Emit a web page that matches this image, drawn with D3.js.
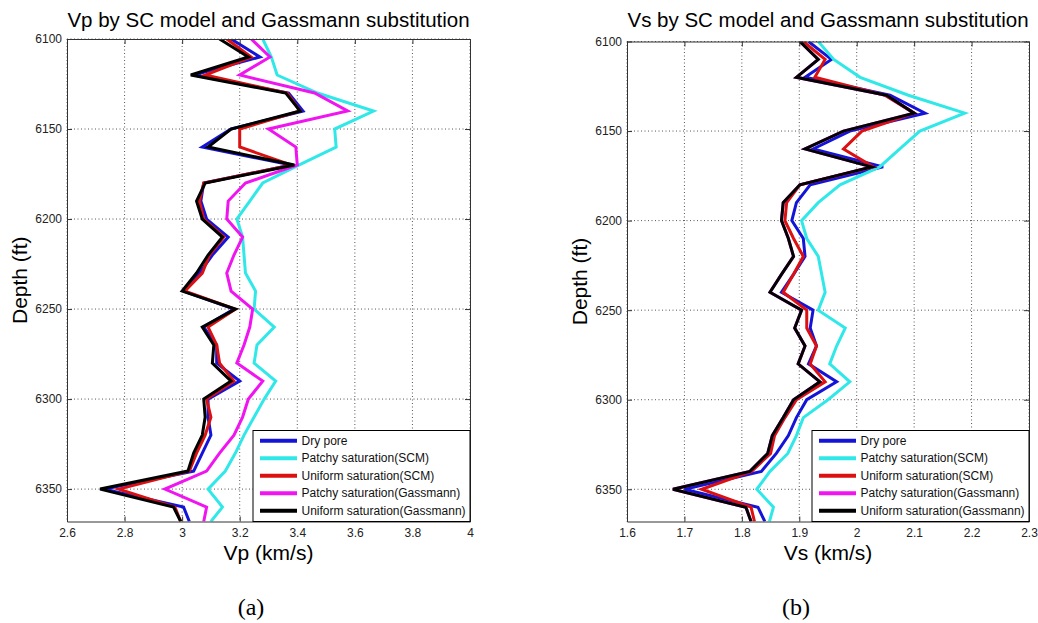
<!DOCTYPE html>
<html>
<head>
<meta charset="utf-8">
<script src="https://d3js.org/d3.v7.min.js"></script>
<style>
  body { margin: 0; background: #fff; }
  svg { display: block; font-family: "Liberation Sans", Arial, sans-serif; }
  .grid line { stroke: #555; stroke-width: 1; stroke-dasharray: 1,2.5; }
  .axis path, .axis line { stroke: #333; }
  .axis text { font-size: 12px; fill: #222; font-family: "Liberation Sans", Arial, sans-serif; }
  .serie { fill: none; stroke-width: 3; }
</style>
</head>
<body>
<svg id="chart" width="1038" height="623"></svg>
<script>
// depths (ft), shared by all curves
const depth = [6100, 6110, 6120, 6130, 6140, 6150, 6160, 6170, 6180, 6190,
               6200, 6210, 6220, 6230, 6240, 6250, 6260, 6270, 6280, 6290,
               6300, 6310, 6320, 6330, 6340, 6350, 6360, 6368];

// Vp (km/s)
const vpDry        = [3.17, 3.27, 3.04, 3.37, 3.42, 3.17, 3.07, 3.38, 3.075, 3.065, 3.085, 3.16, 3.105, 3.06, 3.005, 3.18, 3.075, 3.12, 3.12, 3.20, 3.09, 3.09, 3.10, 3.07, 3.04, 2.73, 3.005, 3.025];
const vpPatchySCM  = [3.28, 3.31, 3.33, 3.47, 3.665, 3.53, 3.535, 3.405, 3.28, 3.235, 3.19, 3.21, 3.215, 3.22, 3.255, 3.25, 3.32, 3.26, 3.25, 3.325, 3.285, 3.25, 3.215, 3.185, 3.15, 3.09, 3.14, 3.10];
const vpUniformSCM = [3.155, 3.24, 3.08, 3.365, 3.41, 3.20, 3.20, 3.38, 3.075, 3.06, 3.075, 3.145, 3.095, 3.07, 3.01, 3.185, 3.09, 3.12, 3.13, 3.18, 3.085, 3.10, 3.08, 3.05, 3.025, 2.78, 2.975, 2.995];
const vpPatchyGas  = [3.24, 3.305, 3.20, 3.46, 3.575, 3.30, 3.395, 3.40, 3.22, 3.16, 3.155, 3.21, 3.18, 3.155, 3.17, 3.245, 3.235, 3.215, 3.19, 3.28, 3.23, 3.21, 3.18, 3.13, 3.085, 2.94, 3.085, 3.075];
const vpUniformGas = [3.13, 3.23, 3.03, 3.36, 3.41, 3.17, 3.09, 3.39, 3.08, 3.05, 3.07, 3.14, 3.09, 3.05, 3.00, 3.185, 3.07, 3.11, 3.105, 3.17, 3.075, 3.08, 3.07, 3.04, 3.02, 2.715, 2.97, 2.995];

// Vs (km/s)
const vsDry        = [1.916, 1.956, 1.91, 2.058, 2.119, 1.988, 1.924, 2.046, 1.919, 1.895, 1.887, 1.907, 1.91, 1.89, 1.869, 1.924, 1.919, 1.93, 1.916, 1.965, 1.913, 1.895, 1.881, 1.86, 1.834, 1.70, 1.828, 1.84];
const vsPatchySCM  = [1.933, 1.96, 2.006, 2.09, 2.188, 2.11, 2.075, 2.04, 1.971, 1.933, 1.904, 1.913, 1.933, 1.939, 1.945, 1.933, 1.98, 1.965, 1.953, 1.988, 1.95, 1.907, 1.895, 1.88, 1.849, 1.826, 1.855, 1.848];
const vsUniformSCM = [1.907, 1.945, 1.927, 2.049, 2.10, 2.009, 1.977, 2.029, 1.901, 1.878, 1.875, 1.89, 1.907, 1.89, 1.872, 1.913, 1.913, 1.93, 1.919, 1.945, 1.895, 1.875, 1.857, 1.85, 1.817, 1.73, 1.816, 1.822];
const vsPatchyGas  = [1.901, 1.933, 1.895, 2.052, 2.10, 1.977, 1.91, 2.026, 1.901, 1.872, 1.869, 1.881, 1.89, 1.869, 1.849, 1.904, 1.892, 1.91, 1.898, 1.936, 1.89, 1.872, 1.853, 1.845, 1.814, 1.68, 1.807, 1.816];
const vsUniformGas = [1.901, 1.933, 1.895, 2.052, 2.10, 1.977, 1.91, 2.026, 1.901, 1.872, 1.869, 1.881, 1.89, 1.869, 1.849, 1.904, 1.892, 1.91, 1.898, 1.936, 1.89, 1.872, 1.853, 1.845, 1.814, 1.68, 1.807, 1.816];

const seriesNames = ["Dry pore", "Patchy saturation(SCM)", "Uniform saturation(SCM)",
                     "Patchy saturation(Gassmann)", "Uniform saturation(Gassmann)"];
const seriesColors = ["#1414d8", "#30e8e8", "#dc1010", "#f014f0", "#000000"];

// ticks
const depthTicks = [6100, 6150, 6200, 6250, 6300, 6350];
const vpTicks = [2.6, 2.8, 3, 3.2, 3.4, 3.6, 3.8, 4];
const vsTicks = [1.6, 1.7, 1.8, 1.9, 2, 2.1, 2.2, 2.3];
const depthDomain = [6100, 6368];

const svg = d3.select("#chart");
svg.append("rect").attr("width", 1038).attr("height", 623).attr("fill", "#fff");

function drawPanel(p) {
  const x = d3.scaleLinear().domain([p.xTicks[0], p.xTicks[p.xTicks.length - 1]]).range([p.left, p.right]);
  const y = d3.scaleLinear().domain(depthDomain).range([p.top, p.bottom]);
  const g = svg.append("g");

  g.append("clipPath").attr("id", "clip-" + p.id).append("rect")
    .attr("x", p.left).attr("y", p.top)
    .attr("width", p.right - p.left).attr("height", p.bottom - p.top);

  // dotted grid
  const grid = g.append("g").attr("class", "grid");
  grid.selectAll("line.gx").data(p.xTicks).enter().append("line").attr("class", "gx")
    .attr("x1", d => x(d)).attr("x2", d => x(d)).attr("y1", p.top).attr("y2", p.bottom);
  grid.selectAll("line.gy").data(depthTicks).enter().append("line").attr("class", "gy")
    .attr("x1", p.left).attr("x2", p.right).attr("y1", d => y(d)).attr("y2", d => y(d));

  // curves
  const line = d3.line().x(d => x(d[1])).y(d => y(d[0]));
  const curves = g.append("g").attr("clip-path", "url(#clip-" + p.id + ")");
  p.series.forEach((vals, i) => {
    curves.append("path")
      .datum(depth.map((dp, k) => [dp, vals[k]]))
      .attr("class", "serie")
      .attr("stroke", seriesColors[i])
      .attr("d", line);
  });

  // axes, ticks pointing inward
  const fmt = d3.format("~g");
  g.append("g").attr("class", "axis").attr("transform", `translate(0,${p.bottom})`)
    .call(d3.axisBottom(x).tickValues(p.xTicks).tickFormat(fmt).tickSize(-5).tickSizeOuter(0).tickPadding(7));
  g.append("g").attr("class", "axis").attr("transform", `translate(0,${p.top})`)
    .call(d3.axisTop(x).tickValues(p.xTicks).tickFormat("").tickSize(-5).tickSizeOuter(0));
  g.append("g").attr("class", "axis").attr("transform", `translate(${p.left},0)`)
    .call(d3.axisLeft(y).tickValues(depthTicks).tickFormat(fmt).tickSize(-5).tickSizeOuter(0).tickPadding(5));
  g.append("g").attr("class", "axis").attr("transform", `translate(${p.right},0)`)
    .call(d3.axisRight(y).tickValues(depthTicks).tickFormat("").tickSize(-5).tickSizeOuter(0));

  // legend
  const lg = g.append("g");
  lg.append("rect")
    .attr("x", p.legendX).attr("y", 430.5)
    .attr("width", p.right - p.legendX).attr("height", p.bottom - 430.5)
    .attr("fill", "#fff").attr("stroke", "#000").attr("stroke-width", 1);
  seriesNames.forEach((name, i) => {
    const yy = 440.7 + i * 17.5;
    lg.append("line")
      .attr("x1", p.legendX + 7).attr("x2", p.legendX + 44)
      .attr("y1", yy).attr("y2", yy)
      .attr("stroke", seriesColors[i]).attr("stroke-width", 4);
    lg.append("text")
      .attr("x", p.legendX + 48.5).attr("y", yy).attr("dy", "0.35em")
      .attr("font-size", "12px").attr("fill", "#111")
      .text(name);
  });

  // titles and labels
  const cx = (p.left + p.right) / 2;
  g.append("text").attr("x", cx).attr("y", 27).attr("text-anchor", "middle")
    .attr("font-size", "20.5px").text(p.title);
  g.append("text").attr("x", cx).attr("y", 560).attr("text-anchor", "middle")
    .attr("font-size", "21px").text(p.xLabel);
  g.append("text")
    .attr("transform", `translate(${p.yLabelX},${(p.top + p.bottom) / 2}) rotate(-90)`)
    .attr("text-anchor", "middle").attr("font-size", "21px").text("Depth (ft)");
  g.append("text").attr("x", p.captionX).attr("y", 615).attr("text-anchor", "middle")
    .attr("font-family", "'Liberation Serif', 'Times New Roman', serif")
    .attr("font-size", "24px").text(p.caption);
}

drawPanel({
  id: "vp", left: 67, right: 470, top: 39, bottom: 521.5,
  xTicks: vpTicks, legendX: 253,
  series: [vpDry, vpPatchySCM, vpUniformSCM, vpPatchyGas, vpUniformGas],
  title: "Vp by SC model and Gassmann substitution", xLabel: "Vp (km/s)",
  yLabelX: 27, caption: "(a)", captionX: 251
});

drawPanel({
  id: "vs", left: 627, right: 1029, top: 41.5, bottom: 521.5,
  xTicks: vsTicks, legendX: 812,
  series: [vsDry, vsPatchySCM, vsUniformSCM, vsPatchyGas, vsUniformGas],
  title: "Vs by SC model and Gassmann substitution", xLabel: "Vs (km/s)",
  yLabelX: 587, caption: "(b)", captionX: 796
});
</script>
</body>
</html>
